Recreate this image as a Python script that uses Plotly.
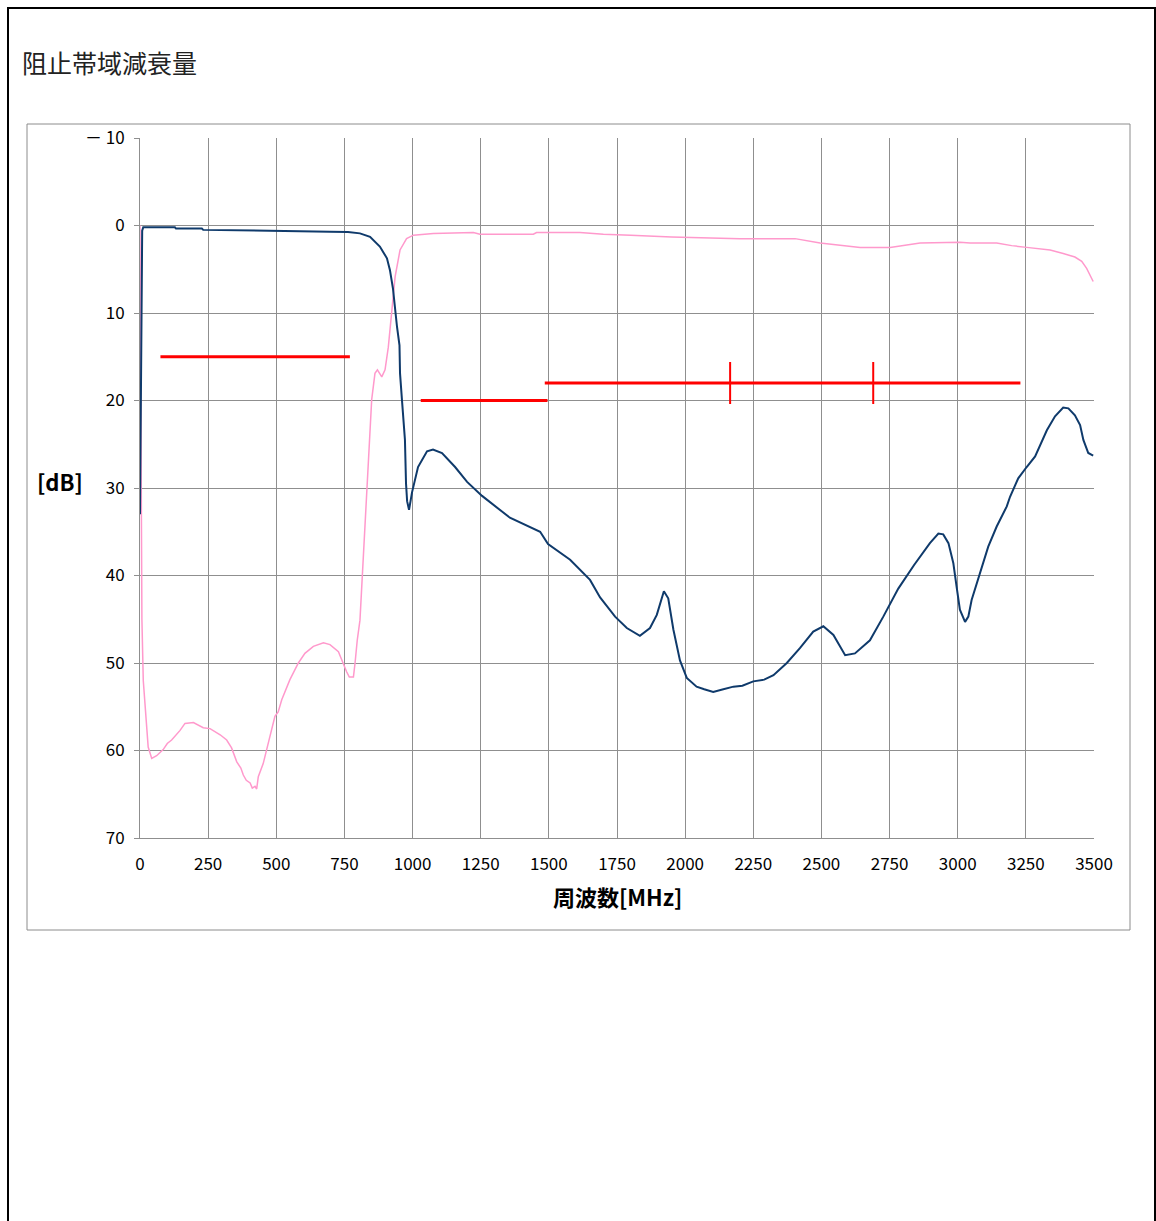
import plotly.graph_objects as go

# 通過特性 (navy) [MHz], [dB]
navy_f = [0, 3, 5, 8, 12, 128, 132, 227, 232, 400, 600, 697, 763, 807, 844, 880, 906,
          917, 928, 936, 943, 952, 954, 961, 972, 976, 980, 987, 998, 1020, 1053,
          1075, 1108, 1156, 1200, 1255, 1357, 1468, 1497, 1578, 1651, 1688, 1743,
          1786, 1834, 1871, 1896, 1922, 1938, 1957, 1981, 2006, 2042, 2070, 2103,
          2140, 2177, 2210, 2250, 2290, 2324, 2373, 2421, 2470, 2507, 2544, 2587,
          2623, 2678, 2727, 2782, 2840, 2898, 2929, 2947, 2966, 2984, 2996, 3008,
          3027, 3039, 3051, 3082, 3112, 3143, 3180, 3192, 3222, 3253, 3284, 3327,
          3357, 3387, 3406, 3430, 3449, 3461, 3479, 3497]
navy_db = [33.0, 20.0, 8.0, 0.6, 0.2, 0.2, 0.35, 0.35, 0.5, 0.55, 0.6, 0.7, 0.75,
           0.9, 1.3, 2.4, 3.75, 5.1, 7.2, 9.7, 11.6, 13.7, 16.9, 19.9, 24.5, 29.5,
           31.5, 32.5, 30.5, 27.6, 25.8, 25.6, 26.0, 27.6, 29.3, 30.9, 33.4, 35.0,
           36.4, 38.2, 40.5, 42.5, 44.7, 46.0, 46.9, 46.0, 44.5, 41.8, 42.6, 46.2,
           49.7, 51.7, 52.7, 53.0, 53.3, 53.0, 52.7, 52.6, 52.1, 51.9, 51.4, 50.0,
           48.3, 46.4, 45.8, 46.8, 49.1, 48.9, 47.4, 44.7, 41.5, 38.8, 36.3, 35.2,
           35.3, 36.3, 38.6, 41.3, 43.9, 45.3, 44.7, 42.8, 39.8, 36.7, 34.4, 32.1,
           31.0, 28.9, 27.6, 26.4, 23.4, 21.8, 20.8, 20.9, 21.7, 22.8, 24.5, 26.0, 26.3]

# 阻止帯域 (pink)
pink_f = [0, 3, 7, 12, 25, 30, 43, 61, 85, 100, 116, 147, 165, 196, 232, 257, 294,
          318, 336, 355, 370, 379, 390, 404, 412, 422, 428, 434, 452, 465, 477, 495,
          507, 520, 550, 581, 605, 636, 673, 697, 728, 740, 758, 768, 783, 789, 797,
          807, 832, 850, 862, 871, 887, 899, 911, 923, 936, 954, 978, 1003, 1076,
          1223, 1247, 1443, 1455, 1614, 1700, 1800, 1950, 2201, 2403, 2495, 2642,
          2752, 2862, 3008, 3045, 3143, 3198, 3253, 3339, 3387, 3430, 3455, 3473, 3497]
pink_db = [0.0, 20.0, 45.0, 52.0, 57.7, 59.6, 60.9, 60.6, 59.9, 59.2, 58.8, 57.7,
           56.9, 56.8, 57.4, 57.5, 58.2, 58.8, 59.7, 61.3, 62.0, 62.8, 63.4, 63.7,
           64.3, 64.1, 64.4, 63.0, 61.5, 59.8, 58.6, 56.1, 55.6, 54.2, 51.9, 50.0,
           48.9, 48.1, 47.7, 47.9, 48.7, 49.7, 51.0, 51.6, 51.6, 50.0, 47.4, 45.1,
           31.2, 19.9, 16.9, 16.5, 17.3, 16.5, 13.9, 9.7, 5.85, 2.8, 1.5, 1.1, 0.9,
           0.8, 1.0, 1.0, 0.8, 0.8, 1.0, 1.1, 1.3, 1.5, 1.5, 2.0, 2.5, 2.5, 2.0, 1.9,
           2.0, 2.0, 2.3, 2.5, 2.8, 3.2, 3.6, 4.1, 4.9, 6.4]

# 規格線 (red)
spec_f = [[75, 770], [1030, 1495], [1485, 3230]]
spec_db = [15, 20, 18]
mark_f = [2165, 2690]
mark_db = [18, 18]

x_ticks = list(range(0, 3501, 250))
y_ticks = list(range(-10, 71, 10))
y_text = ["－ 10"] + [str(v) for v in y_ticks[1:]]

FONT = "Noto Sans CJK JP"
GRID = "#8f8f8f"

fig = go.Figure()
for f, d in zip(spec_f, spec_db):
    fig.add_trace(go.Scatter(x=f, y=[d, d], mode="lines",
                             line=dict(color="#ff0000", width=3), showlegend=False))
fig.add_trace(go.Scatter(x=mark_f, y=mark_db, mode="markers", showlegend=False,
                         marker=dict(symbol="line-ns", size=30,
                                     line=dict(color="#ff0000", width=2))))
fig.add_trace(go.Scatter(x=pink_f, y=pink_db, mode="lines", showlegend=False,
                         line=dict(color="#ff99cc", width=1.5)))
fig.add_trace(go.Scatter(x=navy_f, y=navy_db, mode="lines", showlegend=False,
                         line=dict(color="#0f3a6b", width=2)))
# dummy trace to activate yaxis2 gridlines
fig.add_trace(go.Scatter(x=[None], y=[None], yaxis="y2", showlegend=False))

# page coordinates (body margin removed in post_script)
L, R, T, B = 140, 1094, 138, 838
W, H = 1156, 1221


def px(x):
    return (x - L) / (R - L)


def py(y):
    return (B - y) / (B - T)


fig.update_layout(
    width=W, height=H,
    margin=dict(l=L, r=W - R, t=T, b=H - B, pad=0),
    paper_bgcolor="white", plot_bgcolor="white",
    font=dict(family=FONT, size=17, color="black"),
    xaxis=dict(range=[0, 3500], tickvals=x_ticks, showgrid=True, gridcolor=GRID,
               gridwidth=1, showline=True, linecolor=GRID, zeroline=False,
               ticks="", ticklabelstandoff=11, tickfont=dict(size=17)),
    yaxis=dict(range=[70, -10], tickvals=y_ticks, ticktext=y_text, showgrid=False,
               showline=True, linecolor=GRID, zeroline=False, ticks="outside",
               ticklen=5, tickcolor=GRID, ticklabelstandoff=6,
               tickfont=dict(size=17)),
    yaxis2=dict(range=[70, -10], overlaying="y", tickvals=y_ticks[1:],
                showticklabels=False, showgrid=True, gridcolor=GRID, zeroline=False),
    shapes=[
        dict(type="rect", xref="paper", yref="paper",
             x0=px(8), x1=px(1155), y0=py(1300), y1=py(8),
             line=dict(color="black", width=2)),
        dict(type="rect", xref="paper", yref="paper",
             x0=px(27), x1=px(1130), y0=py(930), y1=py(124),
             line=dict(color="#8c8c8c", width=1)),
    ],
    annotations=[
        dict(text="阻止帯域減衰量", xref="paper", yref="paper", x=px(20), y=py(62),
             xanchor="left", yanchor="middle", showarrow=False,
             font=dict(size=25, color="#222222")),
        dict(text="<b>周波数[MHz]</b>", xref="paper", yref="paper", x=px(617),
             y=py(896), xanchor="center", yanchor="middle", showarrow=False,
             font=dict(size=22)),
        dict(text="<b>[dB]</b>", xref="paper", yref="paper", x=px(60), y=py(481),
             xanchor="center", yanchor="middle", showarrow=False,
             font=dict(size=22)),
    ],
)

fig.write_html("out.html", config={"displayModeBar": False},
               post_script="document.body.style.margin='0';"
                           "document.body.style.overflow='hidden';")
